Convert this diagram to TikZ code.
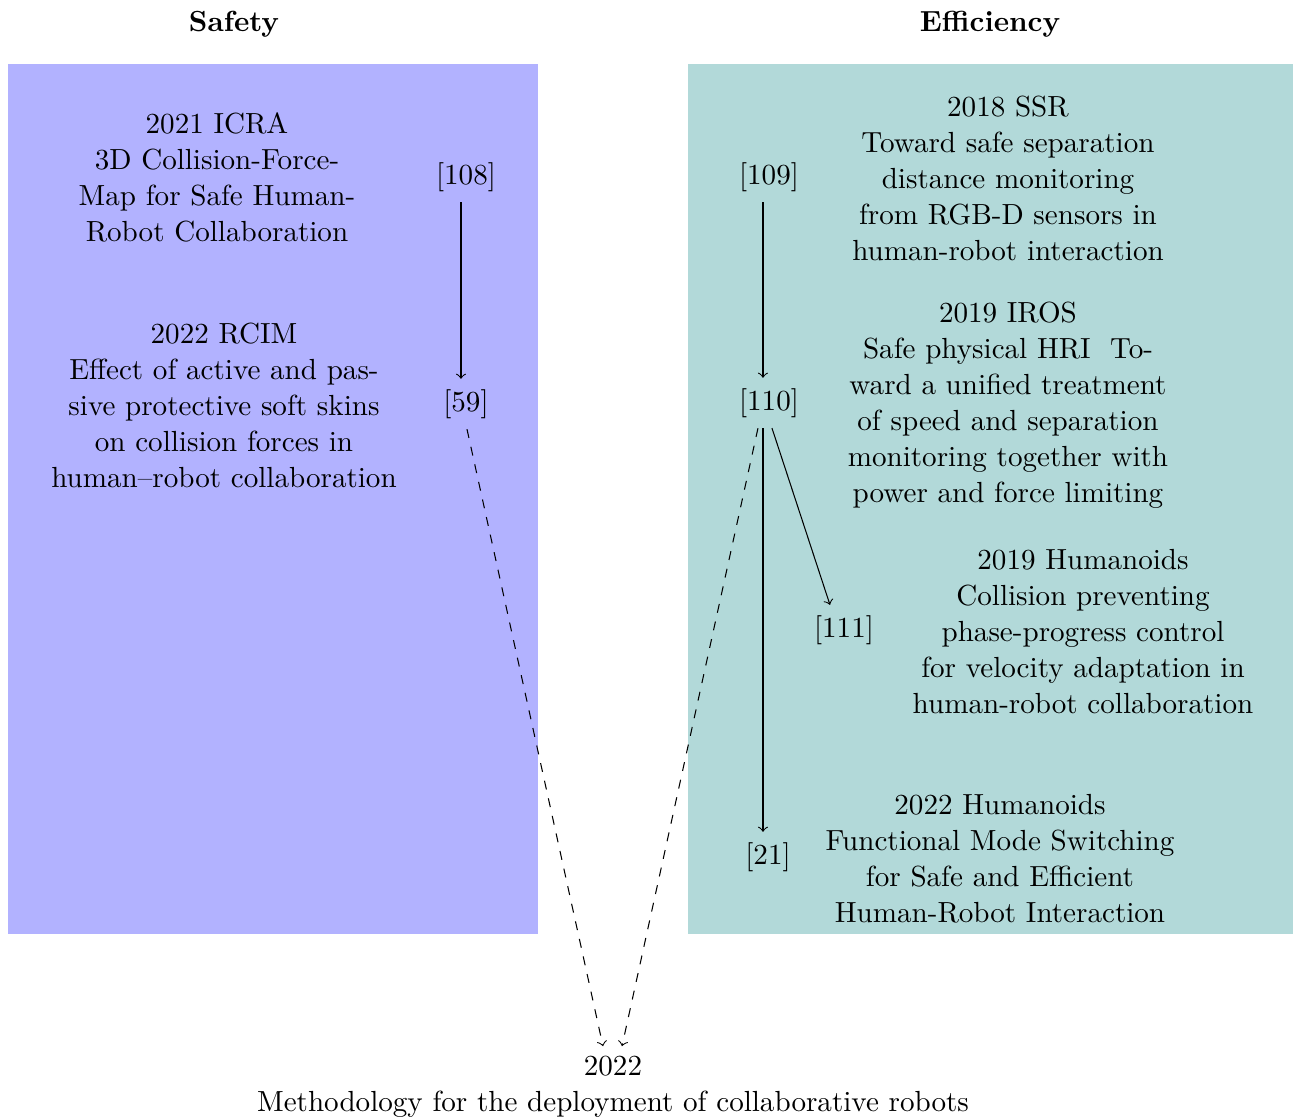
\documentclass[tikz,border=0pt]{standalone}
\usetikzlibrary{arrows}
\definecolor{safebg}{rgb}{0.7,0.7,1}
\definecolor{effbg}{rgb}{0.7,0.85,0.85}
\tikzset{
  every node/.style={font=\fontsize{9.7pt}{12pt}\selectfont},
  ref/.style={inner sep=3.33pt},
  paper/.style={align=center, inner sep=0pt},
  title/.style={font=\fontsize{9.7pt}{12pt}\selectfont\bfseries, inner sep=0pt},
  link/.style={->, line width=0.35pt},
  dashlink/.style={->, dashed, line width=0.35pt},
}
\begin{document}
\begin{tikzpicture}[x=1pt,y=1pt]
\useasboundingbox (0,0) rectangle (433.67,-372.67);
\fill[safebg] (2.67,-21.33) rectangle (179.33,-311.33);
\fill[effbg] (229.33,-21.33) rectangle (431,-311.33);

\node[title] (tsafe) at (78,-8) {Safety};
\node[title] (teff) at (330,-8) {Efficiency};

\node[paper] (p108) at (72.33,-59) {2021 ICRA\\3D Collision-Force-\\Map for Safe Human-\\Robot Collaboration};
\node[paper] (p59) at (74.67,-135) {2022 RCIM\\Effect of active and pas-\\sive protective soft skins\\on collision forces in\\human--robot collaboration};
\node[paper] (p109) at (336,-59.33) {2018 SSR\\Toward safe separation\\distance monitoring\\from RGB-D sensors in\\human-robot interaction};
\node[paper] (p110) at (336,-135) {2019 IROS\\Safe physical HRI\ \ To-\\ward a unified treatment\\of speed and separation\\monitoring together with\\power and force limiting};
\node[paper] (p111) at (361,-210.67) {2019 Humanoids\\Collision preventing\\phase-progress control\\for velocity adaptation in\\human-robot collaboration};
\node[paper] (p21) at (333.33,-286.33) {2022 Humanoids\\Functional Mode Switching\\for Safe and Efficient\\Human-Robot Interaction};

\node[ref] (r108) at (155.33,-59) {[108]};
\node[ref] (r59) at (155.33,-134.67) {[59]};
\node[ref] (r109) at (256.33,-59) {[109]};
\node[ref] (r110) at (256.33,-134.33) {[110]};
\node[ref] (r111) at (281.33,-210) {[111]};
\node[ref] (r21) at (256,-285.67) {[21]};

\node[align=center, inner sep=3.33pt] (target) at (204.33,-362.2) {2022\\Methodology for the deployment of collaborative robots};

\draw[link] ([xshift=-1.67pt]r108.south) -- ([xshift=-1.67pt]r59.north);
\draw[link] ([xshift=-2pt]r109.south) -- ([xshift=-2pt]r110.north);
\draw[link] ([xshift=-2pt]r110.south) -- ([xshift=-1.67pt]r21.north);
\draw[link] ([xshift=1pt]r110.south) -- ([xshift=-4.67pt]r111.north);
\draw[dashlink] ([xshift=0.33pt]r59.south) -- ([xshift=-3.33pt,yshift=-0.3pt]target.north);
\draw[dashlink] ([xshift=-3.67pt]r110.south) -- ([xshift=3pt,yshift=-0.3pt]target.north);
\end{tikzpicture}
\end{document}
